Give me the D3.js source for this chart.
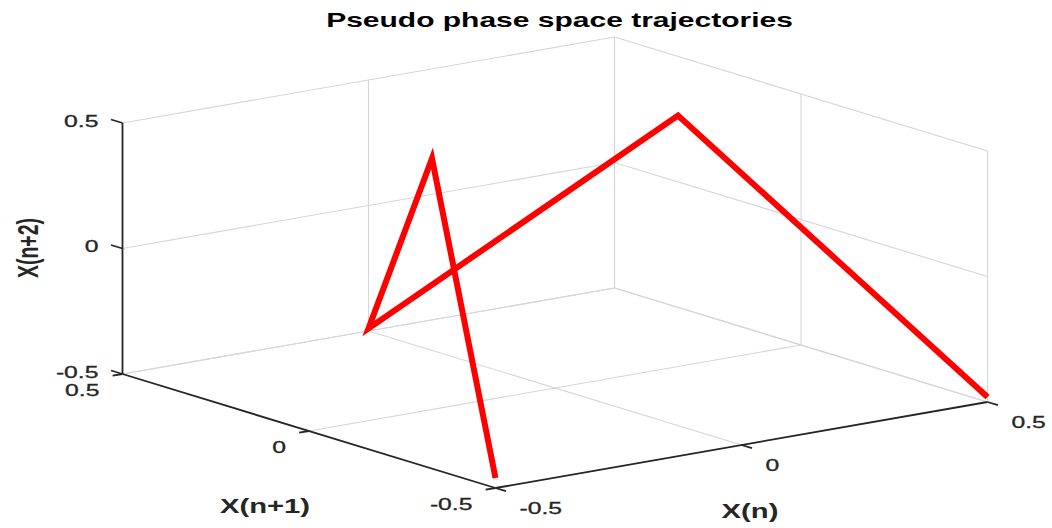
<!DOCTYPE html>
<html>
<head>
<meta charset="utf-8">
<script src="https://cdn.jsdelivr.net/npm/d3@7/dist/d3.min.js"></script>
<style>
  html, body { margin: 0; padding: 0; background: #fff; }
  svg { display: block; font-family: "Liberation Sans", Arial, sans-serif; }
</style>
</head>
<body>
<svg id="chart" width="1052" height="528"></svg>
<script>
// Trajectory points in pseudo phase space
const xn  = [-0.5, -0.25, 0, 0.25, 0.5];     // X(n)
const xn1 = [-0.5, 0, 0.5, 0, -0.5];         // X(n+1)
const xn2 = [-0.46, 0.5, -0.49, 0.5, -0.48]; // X(n+2)

// Axis limits and ticks (same for all three axes)
const xLim = [-0.5, 0.5];
const yLim = [-0.5, 0.5];
const zLim = [-0.5, 0.5];
const tickValues = [-0.5, 0, 0.5];
const tickLabels = ["-0.5", "0", "0.5"];

const titleText = "Pseudo phase space trajectories";
const xLabel = "X(n)";
const yLabel = "X(n+1)";
const zLabel = "X(n+2)";

// ---- 3D view (orthographic) ----
const center = [555, 262.5];
// screen displacement for a unit step along each normalised axis
const ex = [492, -86];
const ey = [-373, -114];
const ez = [0, -251];

const xs = d3.scaleLinear().domain(xLim).range([-0.5, 0.5]);
const ys = d3.scaleLinear().domain(yLim).range([-0.5, 0.5]);
const zs = d3.scaleLinear().domain(zLim).range([-0.5, 0.5]);

function proj(x, y, z) {
  const u = xs(x), v = ys(y), w = zs(z);
  return [center[0] + u * ex[0] + v * ey[0] + w * ez[0],
          center[1] + u * ex[1] + v * ey[1] + w * ez[1]];
}

const TX = 1.5; // horizontal text stretch of the figure
const svg = d3.select("#chart");

const gridColor = "#d6d6d6";
const axisColor = "#262626";

const gGrid = svg.append("g").attr("stroke", gridColor).attr("stroke-width", 1.1).attr("fill", "none");
const seg = (g, a, b) => g.append("line")
  .attr("x1", a[0]).attr("y1", a[1]).attr("x2", b[0]).attr("y2", b[1]);

const [x0, x1] = xLim, [y0, y1] = yLim, [z0, z1] = zLim;

tickValues.forEach(t => {
  // floor (z = min)
  seg(gGrid, proj(t, y0, z0), proj(t, y1, z0));
  seg(gGrid, proj(x0, t, z0), proj(x1, t, z0));
  // back wall y = max
  seg(gGrid, proj(t, y1, z0), proj(t, y1, z1));
  seg(gGrid, proj(x0, y1, t), proj(x1, y1, t));
  // back wall x = max
  seg(gGrid, proj(x1, t, z0), proj(x1, t, z1));
  seg(gGrid, proj(x1, y0, t), proj(x1, y1, t));
});

// ---- axis lines ----
const gAxis = svg.append("g").attr("stroke", axisColor).attr("stroke-width", 1.8).attr("fill", "none");
seg(gAxis, proj(x0, y0, z0), proj(x1, y0, z0)); // X(n)
seg(gAxis, proj(x0, y1, z0), proj(x0, y0, z0)); // X(n+1)
seg(gAxis, proj(x0, y1, z0), proj(x0, y1, z1)); // X(n+2)

function unit(v) { const l = Math.hypot(v[0], v[1]); return [v[0] / l, v[1] / l]; }
const dirX = unit([-ey[0], -ey[1]]);
const dirY = unit([-ex[0], -ex[1]]);
const dirZ = unit([ey[0], ey[1]]);

const gTickLab = svg.append("g").attr("fill", axisColor).attr("font-size", 16.5)
  .attr("stroke", axisColor).attr("stroke-width", 0.3);
function label(g, x, y, txt, anchor) {
  g.append("text")
    .attr("transform", `translate(${x},${y}) scale(${TX},1)`)
    .attr("text-anchor", anchor)
    .attr("dominant-baseline", "central")
    .text(txt);
}

tickValues.forEach((t, i) => {
  // X(n) ticks
  let p = proj(t, y0, z0);
  seg(gAxis, p, [p[0] + dirX[0] * 11, p[1] + dirX[1] * 11]);
  label(gTickLab, p[0] + 24, p[1] + 20, tickLabels[i], "start");
  // X(n+1) ticks
  p = proj(x0, t, z0);
  seg(gAxis, p, [p[0] + dirY[0] * 10, p[1] + dirY[1] * 10]);
  label(gTickLab, p[0] - 23, p[1] + 16, tickLabels[i], "end");
  // X(n+2) ticks
  p = proj(x0, y1, t);
  seg(gAxis, p, [p[0] + dirZ[0] * 12, p[1] + dirZ[1] * 12]);
  label(gTickLab, p[0] - 24, p[1] - 2, tickLabels[i], "end");
});

// ---- trajectory ----
const pts = xn.map((d, i) => proj(d, xn1[i], xn2[i]));
svg.append("path")
  .attr("d", d3.line()(pts))
  .attr("fill", "none")
  .attr("stroke", "#ff0000")
  .attr("stroke-width", 6)
  .attr("stroke-linejoin", "miter")
  .attr("stroke-miterlimit", 4);

// ---- axis titles ----
const gTitles = svg.append("g").attr("fill", axisColor).attr("font-weight", "bold").attr("font-size", 19.5);
label(gTitles, 750, 511, xLabel, "middle");
label(gTitles, 265, 506, yLabel, "middle");
gTitles.append("text")
  .attr("transform", `translate(28,248) scale(${TX},1) rotate(-90)`)
  .attr("text-anchor", "middle")
  .attr("dominant-baseline", "central")
  .text(zLabel);

svg.append("text")
  .attr("transform", `translate(559.5,27) scale(${TX},1)`)
  .attr("text-anchor", "middle")
  .attr("font-weight", "bold")
  .attr("font-size", 20)
  .attr("fill", "#000")
  .text(titleText);
</script>
</body>
</html>
